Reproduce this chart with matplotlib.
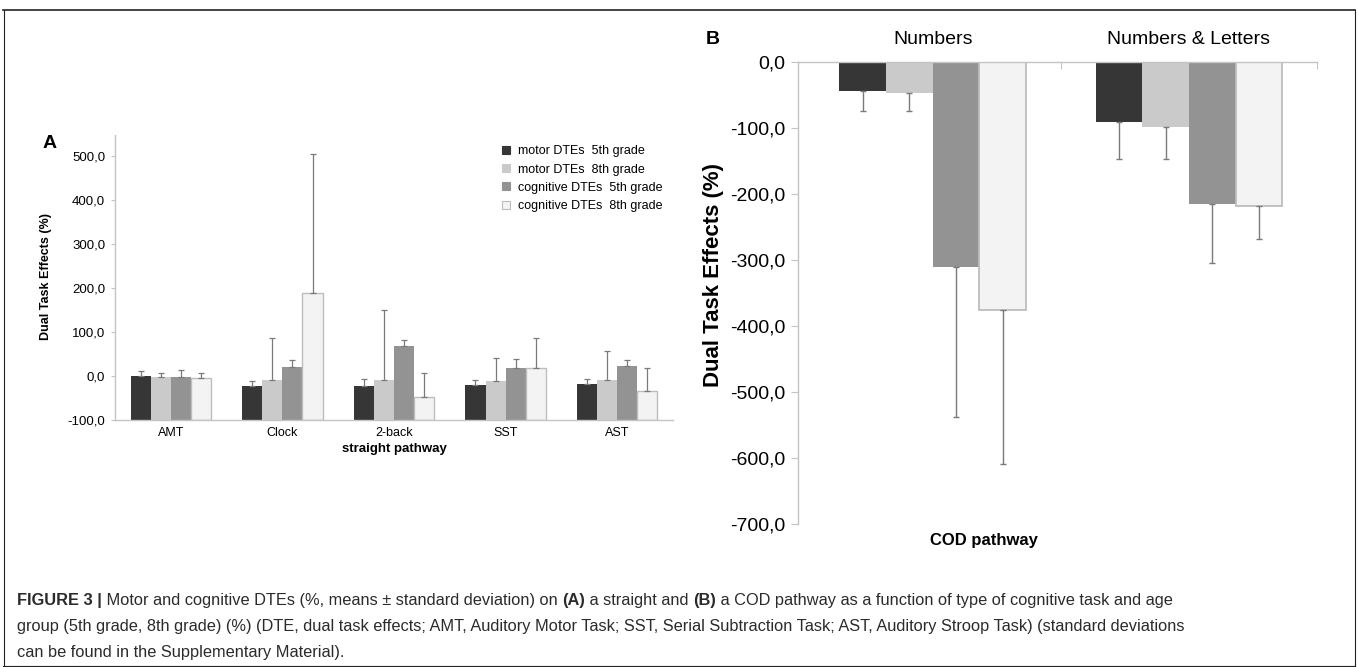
import matplotlib
matplotlib.use("Agg")
import matplotlib.pyplot as plt
import numpy as np
from matplotlib.ticker import FuncFormatter, FixedLocator
from matplotlib.lines import Line2D
from matplotlib import font_manager

# ---------------- data ----------------
series = ["motor DTEs  5th grade", "motor DTEs  8th grade",
          "cognitive DTEs  5th grade", "cognitive DTEs  8th grade"]
colors = ["#363636", "#cacaca", "#939393", "#f3f3f3"]
edges = ["#363636", "#cacaca", "#939393", "#bdbdbd"]

# Panel A (straight pathway)
tasks_a = ["AMT", "Clock", "2-back", "SST", "AST"]
motor5_a = [0, -23, -23, -21, -19]
motor8_a = [-2, -9, -9, -12, -9]
cog5_a = [-2, 21, 69, 19, 22]
cog8_a = [-5, 189, -47, 19, -34]
motor5_a_sd = [11, 12, 16, 12, 12]
motor8_a_sd = [10, 96, 160, 54, 66]
cog5_a_sd = [15, 15, 13, 19, 14]
cog8_a_sd = [11, 316, 53, 67, 53]

# Panel B (COD pathway)
tasks_b = ["Numbers", "Numbers & Letters"]
motor5_b = [-44, -92]
motor8_b = [-48, -99]
cog5_b = [-311, -215]
cog8_b = [-376, -218]
motor5_b_sd = [30, 55]
motor8_b_sd = [27, 48]
cog5_b_sd = [228, 90]
cog8_b_sd = [233, 50]

W, H = 1358, 667
fig = plt.figure(figsize=(W / 100, H / 100), dpi=100)

def fx(px):
    return px / W

def fy(py):
    return 1 - py / H

plt.rcParams['font.family'] = ['Liberation Sans', 'DejaVu Sans']

fmt = FuncFormatter(lambda v, p: f"{v:.1f}".replace('.', ','))
spine_c = "#c4c4c4"
err_c = "#7a7a7a"

# ---------------- Panel A ----------------
axA = fig.add_axes([fx(115), fy(420), fx(673) - fx(115), fy(135) - fy(420)])
vals_a = [motor5_a, motor8_a, cog5_a, cog8_a]
sds_a = [motor5_a_sd, motor8_a_sd, cog5_a_sd, cog8_a_sd]
base_a = -100
xa = np.arange(len(tasks_a))
bw = 0.18
for i in range(4):
    pos = xa + (i - 1.5) * bw
    v = np.array(vals_a[i], dtype=float)
    axA.bar(pos, v - base_a, bottom=base_a, width=bw, color=colors[i],
            edgecolor=edges[i], linewidth=1.0 if i == 3 else 0, label=series[i], zorder=2)
    axA.errorbar(pos, v, yerr=[np.zeros(len(v)), sds_a[i]], fmt='none',
                 ecolor=err_c, elinewidth=0.9, capsize=2.0, capthick=0.9, zorder=3)
axA.set_xlim(-0.5, len(tasks_a) - 0.5)
axA.set_ylim(-100, 548)
axA.yaxis.set_major_locator(FixedLocator([-100, 0, 100, 200, 300, 400, 500]))
axA.yaxis.set_major_formatter(fmt)
axA.set_xticks(xa)
axA.set_xticklabels(tasks_a, fontsize=9)
axA.tick_params(axis='x', length=0, pad=5)
axA.tick_params(axis='y', length=3, color=spine_c, labelsize=9.5, pad=4)
for s in ["top", "right"]:
    axA.spines[s].set_visible(False)
for s in ["left", "bottom"]:
    axA.spines[s].set_color(spine_c)
    axA.spines[s].set_linewidth(1.0)
fig.text(fx(394), fy(449), "straight pathway", fontsize=9.5, fontweight='bold',
         ha='center', va='center')
fig.text(fx(46), fy(277), "Dual Task Effects (%)", fontsize=9, fontweight='bold',
         rotation=90, ha='center', va='center')
fig.text(fx(50), fy(144), "A", fontsize=14, fontweight='bold', ha='center', va='center')

handles = [Line2D([0], [0], marker='s', linestyle='none', markersize=6,
                  markerfacecolor=colors[i], markeredgecolor=edges[i],
                  markeredgewidth=0.8) for i in range(4)]
axA.legend(handles, series, loc='upper left', bbox_to_anchor=(fx(494), fy(139)),
           bbox_transform=fig.transFigure, frameon=False, fontsize=9,
           handlelength=0.9, handletextpad=0.55, labelspacing=0.5, borderpad=0)

# ---------------- Panel B ----------------
axB = fig.add_axes([fx(798), fy(523.7), fx(1317) - fx(798), fy(61.7) - fy(523.7)])
vals_b = [motor5_b, motor8_b, cog5_b, cog8_b]
sds_b = [motor5_b_sd, motor8_b_sd, cog5_b_sd, cog8_b_sd]
xb = np.arange(len(tasks_b))
bwb = 0.182
for i in range(4):
    pos = xb + (i - 1.5) * bwb
    v = np.array(vals_b[i], dtype=float)
    axB.bar(pos, v, width=bwb, color=colors[i], edgecolor=edges[i],
            linewidth=1.3 if i == 3 else 0, zorder=2)
    axB.errorbar(pos, v, yerr=[sds_b[i], np.zeros(len(v))], fmt='none',
                 ecolor=err_c, elinewidth=1.0, capsize=2.5, capthick=1.0, zorder=3)
axB.set_xlim(-0.526, len(tasks_b) - 0.5)
axB.set_ylim(-700, 0)
axB.yaxis.set_major_locator(FixedLocator(np.arange(-700, 1, 100)))
axB.yaxis.set_major_formatter(fmt)
axB.tick_params(axis='y', length=5, color=spine_c, labelsize=14, pad=4)
axB.xaxis.tick_top()
axB.set_xticks([0.5, 1.5])
axB.set_xticklabels([])
axB.set_xticks(xb, minor=True)
axB.set_xticklabels(tasks_b, minor=True, fontsize=14)
axB.tick_params(axis='x', which='major', direction='in', length=5, color=spine_c)
axB.tick_params(axis='x', which='minor', length=0, pad=10)
for s in ["bottom", "right"]:
    axB.spines[s].set_visible(False)
for s in ["left", "top"]:
    axB.spines[s].set_color(spine_c)
    axB.spines[s].set_linewidth(1.0)
fig.text(fx(713), fy(275), "Dual Task Effects (%)", fontsize=16, fontweight='bold',
         rotation=90, ha='center', va='center')
fig.text(fx(984), fy(540), "COD pathway", fontsize=12, fontweight='bold',
         ha='center', va='center')
fig.text(fx(713), fy(40), "B", fontsize=14, fontweight='bold', ha='center', va='center')

# ---------------- frame ----------------
fig.add_artist(Line2D([fx(3), fx(1355)], [fy(10), fy(10)], color="#222222", lw=1.2))
fig.add_artist(Line2D([fx(3.5), fx(3.5)], [fy(10), fy(666)], color="#222222", lw=0.8))
fig.add_artist(Line2D([fx(1355), fx(1355)], [fy(10), fy(666)], color="#222222", lw=0.8))
fig.add_artist(Line2D([fx(3), fx(1355)], [fy(666), fy(666)], color="#222222", lw=0.8))

# ---------------- caption ----------------
cap_family = 'Liberation Sans'
try:
    font_manager.findfont(font_manager.FontProperties(family='Liberation Sans Narrow'),
                          fallback_to_default=False)
    cap_family = 'Liberation Sans Narrow'
except Exception:
    pass

caption_lines = [
    [("FIGURE 3 |", True), (" Motor and cognitive DTEs (%, means \u00b1 standard deviation) on ", False),
     ("(A)", True), (" a straight and ", False), ("(B)", True),
     (" a COD pathway as a function of type of cognitive task and age", False)],
    [("group (5th grade, 8th grade) (%) (DTE, dual task effects; AMT, Auditory Motor Task; "
      "SST, Serial Subtraction Task; AST, Auditory Stroop Task) (standard deviations", False)],
    [("can be found in the Supplementary Material).", False)],
]
cap_y = [600, 626, 652]
renderer = fig.canvas.get_renderer()

def draw_line(parts, y, size, draw=True):
    x = 17
    objs = []
    for txt, bold in parts:
        t = fig.text(fx(x), fy(y), txt, fontsize=size, family=[cap_family, 'DejaVu Sans'],
                     fontweight='bold' if bold else 'normal', ha='left', va='center',
                     color="#2b2b2b")
        bb = t.get_window_extent(renderer)
        x += bb.width
        objs.append(t)
    if not draw:
        for t in objs:
            t.remove()
    return x - 17

size = 11.5
wline = draw_line(caption_lines[0], cap_y[0], size, draw=False)
size = size * 1161 / wline
for parts, y in zip(caption_lines, cap_y):
    draw_line(parts, y, size)

fig.savefig("out.png", dpi=100)
